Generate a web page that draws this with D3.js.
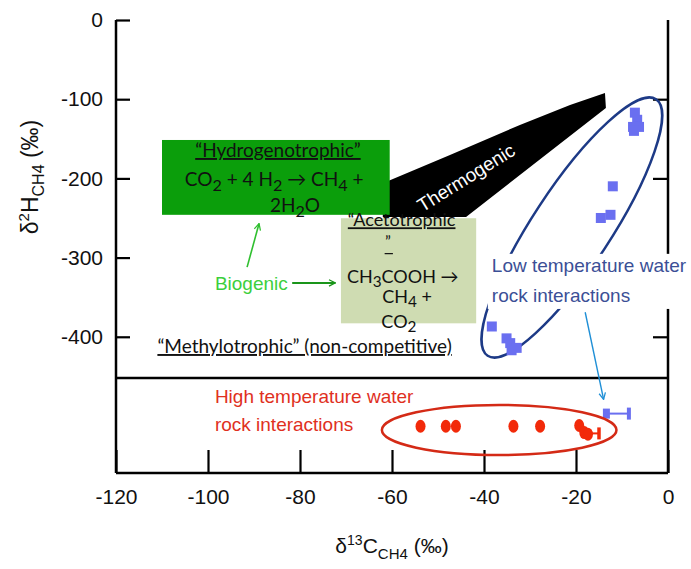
<!DOCTYPE html>
<html><head><meta charset="utf-8">
<script src="https://cdn.jsdelivr.net/npm/d3@7"></script>
<style>body{margin:0;background:#fff}svg{display:block}</style>
</head><body><svg id="c" width="691" height="569"></svg>
<script>
// ---- data ----
const xTicks = [-120, -100, -80, -60, -40, -20, 0];
const yTicks = [0, -100, -200, -300, -400];
const rightTicks = [-100, -200, -300, -400];
const bandLimit = -452;           // separator between main field and high-T band
// low temperature water-rock interactions (blue squares)
const lowTempC = [-7.2, -6.7, -7.6, -6.3, -7.4, -12.0, -14.6, -12.5, -38.3, -35.1, -34.3, -32.9, -34.0];
const lowTempH = [-117, -126, -135, -135, -140, -210, -250, -246, -387, -402, -408, -414, -417];
// high temperature water-rock interactions (red dots, plotted in off-scale band)
const highTempC = [-53.8, -48.3, -46.1, -33.6, -27.8, -19.3, -18.2, -17.4];
const highTempH = [-513, -513, -513, -513, -513, -512, -521, -523];
const highErrC = [-17.4, -15.0];
const highErrH = -522;
// blue point with error bar in band
const bandBlueC = -13.5, bandBlueErr = [-13.5, -8.5], bandBlueH = -497;
// thermogenic field outline
const thermoC = [-62, -47.4, -32.2, -21.3, -13.7, -13.5, -43.9, -62];
const thermoH = [-206, -170.5, -132.6, -107.3, -92.2, -111.1, -248.7, -248.7];
// biogenic boxes
const hydroC = [-110, -60.5], hydroH = [-151.5, -246];
const acetoC = [-71.1, -41.7], acetoH = [-250.3, -383];
// ellipses
const redEllC = -36.7, redEllH = -517.7, redEllRc = 25.5, redEllRh = 31.6;
const blueEllEndsC = [-39.2, -2.6], blueEllEndsH = [-424, -100];

// ---- scales ----
const svg = d3.select('#c');
const x = d3.scaleLinear().domain([-120, 0]).range([116, 668]);
const y = d3.scaleLinear().domain([0, -572]).range([20, 473]);
const numFont = '"Liberation Sans", Arial, sans-serif';
const txtFont = 'Lato, "Open Sans", sans-serif';

const defs = svg.append('defs');
function marker(id, color) {
  defs.append('marker').attr('id', id).attr('viewBox', '0 0 10 10').attr('refX', 9).attr('refY', 5)
    .attr('markerWidth', 8).attr('markerHeight', 8).attr('orient', 'auto').attr('markerUnits', 'userSpaceOnUse')
    .append('path').attr('d', 'M1,1 L9,5 L1,9').attr('fill', 'none').attr('stroke', color).attr('stroke-width', 1.6);
}
marker('gUp', '#2fbf2f'); marker('gRight', '#1a951a'); marker('bArr', '#1f8fd6');

// ---- thermogenic field ----
svg.append('path')
  .datum(thermoC.map((c, i) => [c, thermoH[i]]))
  .attr('d', d3.line().x(d => x(d[0])).y(d => y(d[1])).curve(d3.curveLinearClosed))
  .attr('fill', '#000');
svg.append('text').attr('transform', `translate(${x(-43.9)},${y(-199)}) rotate(-32)`)
  .attr('text-anchor', 'middle').attr('dy', '0.35em')
  .attr('font-family', numFont).attr('font-size', 19).attr('fill', '#fff').text('Thermogenic');

// ---- acetotrophic box ----
svg.append('rect').attr('x', x(acetoC[0])).attr('y', y(acetoH[0]))
  .attr('width', x(acetoC[1]) - x(acetoC[0])).attr('height', y(acetoH[1]) - y(acetoH[0]))
  .attr('fill', '#cfdcb2');
// ---- hydrogenotrophic box ----
svg.append('rect').attr('x', x(hydroC[0])).attr('y', y(hydroH[0]))
  .attr('width', x(hydroC[1]) - x(hydroC[0])).attr('height', y(hydroH[1]) - y(hydroH[0]))
  .attr('fill', '#0b9e0b');

function t(c, h, anchor, size, color, font) {
  return svg.append('text').attr('x', x(c)).attr('y', y(h)).attr('text-anchor', anchor)
    .attr('font-family', font || txtFont).attr('font-size', size).attr('fill', color || '#111');
}
function sub(sel, s, d) { sel.append('tspan').attr('dy', d || 5).attr('font-size', '0.85em').text(s); }
function back(sel, s, d) { sel.append('tspan').attr('dy', -(d || 5)).text(s); }

t(-84.8, -173, 'middle', 19).attr('text-decoration', 'underline').text('\u201CHydrogenotrophic\u201D');
{
  const l = t(-85.6, -209, 'middle', 19);
  l.append('tspan').text('CO'); sub(l, '2'); back(l, ' + 4 H'); sub(l, '2'); back(l, ' \u2192 CH'); sub(l, '4'); back(l, ' +');
  const l2 = t(-81.1, -242, 'middle', 19);
  l2.append('tspan').text('2H'); sub(l2, '2'); back(l2, 'O');
}
t(-57.9, -260.5, 'middle', 18).attr('text-decoration', 'underline').text('\u201CAcetotrophic');
t(-60.9, -286, 'middle', 16).text('\u201D');
svg.append('line').attr('x1', x(-61.6)).attr('x2', x(-59.8)).attr('y1', y(-295)).attr('y2', y(-295))
  .attr('stroke', '#111').attr('stroke-width', 1.2);
{
  const l = t(-69.8, -332, 'start', 18);
  l.append('tspan').text('CH'); sub(l, '3', 4); back(l, 'COOH \u2192', 4);
  const l2 = t(-56.7, -357, 'middle', 18);
  l2.append('tspan').text('CH'); sub(l2, '4', 4); back(l2, ' +', 4);
  const l3 = t(-58.5, -389, 'middle', 18);
  l3.append('tspan').text('CO'); sub(l3, '2', 4);
}
t(-111, -420.5, 'start', 19).attr('text-decoration', 'underline')
  .text('\u201CMethylotrophic\u201D (non-competitive)');

// Biogenic label and arrows
t(-98.5, -341, 'start', 19, '#3ccf3c', numFont).text('Biogenic');
svg.append('line').attr('x1', x(-91.5)).attr('y1', y(-312)).attr('x2', x(-88.9)).attr('y2', y(-257))
  .attr('stroke', '#2fbf2f').attr('stroke-width', 1.6).attr('marker-end', 'url(#gUp)');
svg.append('line').attr('x1', x(-81.7)).attr('y1', y(-332)).attr('x2', x(-72.3)).attr('y2', y(-332))
  .attr('stroke', '#1a951a').attr('stroke-width', 2).attr('marker-end', 'url(#gRight)');

// ---- frame & axes ----
const frame = svg.append('g').attr('stroke', '#000').attr('stroke-width', 2.5).attr('fill', 'none');
frame.append('line').attr('x1', x(-120)).attr('x2', x(-120)).attr('y1', y(0)).attr('y2', y(-572));
frame.append('line').attr('x1', x(0)).attr('x2', x(0)).attr('y1', y(0)).attr('y2', y(-572));
frame.append('line').attr('x1', x(-120)).attr('x2', x(0)).attr('y1', y(-572)).attr('y2', y(-572));
frame.append('line').attr('x1', x(-120)).attr('x2', x(0)).attr('y1', y(bandLimit)).attr('y2', y(bandLimit));

function styleAxis(g) {
  g.select('.domain').remove();
  g.selectAll('.tick line').attr('stroke', '#000').attr('stroke-width', 2.2);
  g.selectAll('.tick text').attr('font-family', numFont).attr('font-size', 21).attr('fill', '#111');
}
const fmt = d => String(d);
svg.append('g').attr('transform', `translate(${x(-120)},0)`)
  .call(d3.axisLeft(y).tickValues(yTicks).tickSizeInner(-14).tickSizeOuter(0).tickPadding(13)
    .tickFormat(fmt)).call(styleAxis);
svg.append('g').attr('transform', `translate(${x(0)},0)`)
  .call(d3.axisRight(y).tickValues(rightTicks).tickSizeInner(-15).tickSizeOuter(0).tickFormat(''))
  .call(styleAxis);
svg.append('g').attr('transform', `translate(0,${y(-572)})`)
  .call(d3.axisBottom(x).tickValues(xTicks).tickSizeInner(-23).tickSizeOuter(0).tickPadding(16)
    .tickFormat(fmt)).call(styleAxis);

// axis titles
{
  const yl = svg.append('text').attr('transform', 'translate(38,177) rotate(-90)').attr('text-anchor', 'middle')
    .attr('font-family', numFont).attr('font-size', 23).attr('fill', '#111');
  yl.append('tspan').text('\u03B4');
  yl.append('tspan').attr('dy', -9).attr('font-size', 15).text('2');
  yl.append('tspan').attr('dy', 9).text('H');
  yl.append('tspan').attr('dy', 6).attr('font-size', 16).text('CH4');
  yl.append('tspan').attr('dy', -6).text(' (\u2030)');
  const xl = svg.append('text').attr('x', x(-60)).attr('y', 553).attr('text-anchor', 'middle')
    .attr('font-family', numFont).attr('font-size', 21).attr('fill', '#111');
  xl.append('tspan').text('\u03B4');
  xl.append('tspan').attr('dy', -8).attr('font-size', 14).text('13');
  xl.append('tspan').attr('dy', 8).text('C');
  xl.append('tspan').attr('dy', 6).attr('font-size', 15).text('CH4');
  xl.append('tspan').attr('dy', -6).text(' (\u2030)');
}

// ---- low temperature ellipse ----
{
  const p1 = [x(blueEllEndsC[0]), y(blueEllEndsH[0])], p2 = [x(blueEllEndsC[1]), y(blueEllEndsH[1])];
  const cx = (p1[0] + p2[0]) / 2, cy = (p1[1] + p2[1]) / 2;
  const rx = Math.hypot(p2[0] - p1[0], p2[1] - p1[1]) / 2;
  const ang = Math.atan2(p2[1] - p1[1], p2[0] - p1[0]) * 180 / Math.PI;
  svg.append('ellipse').attr('transform', `translate(${cx},${cy}) rotate(${ang})`)
    .attr('rx', rx).attr('ry', 39).attr('fill', 'none').attr('stroke', '#1d3a86').attr('stroke-width', 2.5);
}
// label with white background
{
  const g = svg.append('g');
  const bg = g.append('rect').attr('fill', '#fff');
  const l1 = t(-38.3, -318, 'start', 19, '#3b4f96', numFont).text('Low temperature water');
  const l2 = t(-38.3, -356, 'start', 19, '#3b4f96', numFont).text('rock interactions');
  g.node().appendChild(l1.node()); g.node().appendChild(l2.node());
  bg.attr('x', x(-38.3) - 4).attr('y', y(-318) - 18).attr('width', 691 - x(-38.3) + 4).attr('height', y(-356) - y(-318) + 25);
}
svg.append('line').attr('x1', x(-18)).attr('y1', y(-369)).attr('x2', x(-14)).attr('y2', y(-479))
  .attr('stroke', '#1f8fd6').attr('stroke-width', 1.4).attr('marker-end', 'url(#bArr)');

// blue squares
svg.append('g').selectAll('rect').data(lowTempC.map((c, i) => [c, lowTempH[i]])).join('rect')
  .attr('x', d => x(d[0]) - 5).attr('y', d => y(d[1]) - 5).attr('width', 10).attr('height', 10)
  .attr('fill', '#6a6ff0');
// blue band point with error bar
{
  const g = svg.append('g').attr('stroke', '#6a6ff0');
  g.append('line').attr('x1', x(bandBlueErr[0])).attr('x2', x(bandBlueErr[1])).attr('y1', y(bandBlueH)).attr('y2', y(bandBlueH)).attr('stroke-width', 2);
  g.append('line').attr('x1', x(bandBlueErr[1])).attr('x2', x(bandBlueErr[1])).attr('y1', y(bandBlueH) - 6).attr('y2', y(bandBlueH) + 6).attr('stroke-width', 4);
  g.append('rect').attr('x', x(bandBlueC) - 3).attr('y', y(bandBlueH) - 5).attr('width', 7).attr('height', 10).attr('fill', '#6a6ff0').attr('stroke', 'none');
}

// ---- high temperature ----
svg.append('ellipse').attr('cx', x(redEllC)).attr('cy', y(redEllH))
  .attr('rx', x(redEllC + redEllRc) - x(redEllC)).attr('ry', y(redEllH - redEllRh) - y(redEllH))
  .attr('fill', 'none').attr('stroke', '#d42a16').attr('stroke-width', 2.5);
{
  const g = svg.append('g').attr('stroke', '#f22a0a');
  g.append('line').attr('x1', x(highErrC[0])).attr('x2', x(highErrC[1])).attr('y1', y(highErrH)).attr('y2', y(highErrH)).attr('stroke-width', 2);
  g.append('line').attr('x1', x(highErrC[1])).attr('x2', x(highErrC[1])).attr('y1', y(highErrH) - 6).attr('y2', y(highErrH) + 6).attr('stroke-width', 3.5);
}
svg.append('g').selectAll('ellipse').data(highTempC.map((c, i) => [c, highTempH[i]])).join('ellipse')
  .attr('cx', d => x(d[0])).attr('cy', d => y(d[1])).attr('rx', 5).attr('ry', 6.5).attr('fill', '#f22a0a');
t(-98.5, -484, 'start', 19, '#e0301e', numFont).text('High temperature water');
t(-98.5, -519, 'start', 19, '#e0301e', numFont).text('rock interactions');
</script></body></html>
